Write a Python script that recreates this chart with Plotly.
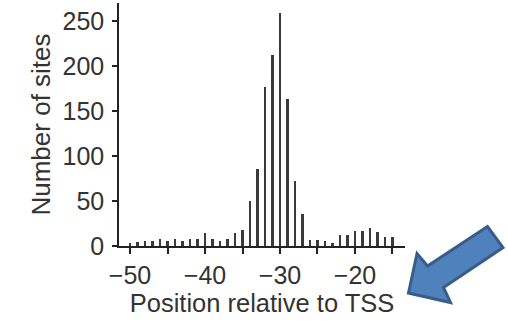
import plotly.graph_objects as go

# ---- data ----
positions = list(range(-50, -14))
counts = [3, 4, 6, 6, 8, 6, 8, 6, 8, 8,
          14, 8, 6, 8, 14, 18, 50, 85, 176, 212,
          259, 163, 72, 35, 7, 7, 5, 3, 12, 12,
          17, 17, 20, 15, 10, 10]
x_tickvals = [-50, -45, -40, -35, -30, -25, -20, -15]
x_ticktext = ["\u221250", "", "\u221240", "", "\u221230", "", "\u221220", ""]
y_tickvals = [0, 50, 100, 150, 200, 250]

W, H = 508, 323
ML, MR, MT, MB = 119, 103, 3, 77
PW, PH = W - ML - MR, H - MT - MB

fig = go.Figure()
fig.add_trace(go.Bar(x=positions, y=counts, width=0.3,
                     marker=dict(color="#3a3a3a", line=dict(width=0))))

font = dict(family="Liberation Sans, Arial, sans-serif", color="#333333")

# block arrow (annotation), pixel outline converted to paper coords
arrow_px = [(408.5, 293), (417, 253.5), (427.5, 266), (487.5, 226.5),
            (503, 247.5), (443.5, 287.5), (450.5, 302.5)]
def to_paper(p):
    return ((p[0] - ML) / PW, (H - MB - p[1]) / PH)
pts = [to_paper(p) for p in arrow_px]
path = "M " + " L ".join(f"{x:.4f},{y:.4f}" for x, y in pts) + " Z"

fig.update_layout(
    width=W, height=H,
    margin=dict(l=ML, r=MR, t=MT, b=MB, pad=0, autoexpand=False),
    paper_bgcolor="white", plot_bgcolor="white",
    showlegend=False,
    font=dict(size=25, **font),
    bargap=0,
    xaxis=dict(range=[-51.47, -13.33], tickmode="array",
               tickvals=x_tickvals, ticktext=x_ticktext,
               ticks="outside", ticklen=6, tickwidth=1.5, tickcolor="#222",
               showline=True, linecolor="#222", linewidth=1.5,
               showgrid=False, zeroline=False, automargin=False,
               tickfont=dict(size=25, **font),
               title=dict(text="Position relative to TSS",
                          font=dict(size=25.5, **font), standoff=4)),
    yaxis=dict(range=[0, 269.7], tickmode="array", tickvals=y_tickvals,
               ticks="outside", ticklen=5, tickwidth=1.5, tickcolor="#222",
               showline=True, linecolor="#222", linewidth=1.5,
               showgrid=False, zeroline=False, automargin=False,
               ticklabelstandoff=3,
               tickfont=dict(size=25, **font),
               title=dict(text="Number of sites",
                          font=dict(size=26, **font), standoff=4)),
    shapes=[dict(type="path", xref="paper", yref="paper", path=path,
                 fillcolor="#4F81BD", line=dict(color="#385D8A", width=3),
                 layer="above")],
)

fig.write_html("out.html",
               config={"displayModeBar": False},
               post_script="document.body.style.margin='0px';"
                           "document.body.style.overflow='hidden';")
